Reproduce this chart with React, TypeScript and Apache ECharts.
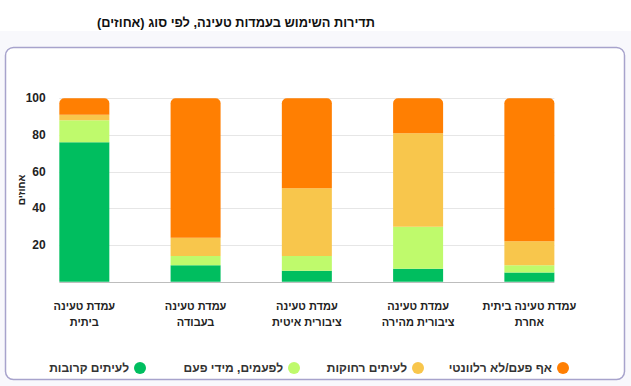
import React, { useEffect, useRef } from "react";
import * as echarts from "echarts";

const categories = [
  "עמדת טעינה\nביתית",
  "עמדת טעינה\nבעבודה",
  "עמדת טעינה\nציבורית איטית",
  "עמדת טעינה\nציבורית מהירה",
  "עמדת טעינה ביתית\nאחרת",
];
const seriesNames = ["לעיתים קרובות", "לפעמים, מידי פעם", "לעיתים רחוקות", "אף פעם/לא רלוונטי"];
const often = [76, 9, 6, 7, 5];
const sometimes = [12, 5, 8, 23, 4];
const rarely = [3, 10, 37, 51, 13];
const never = [9, 76, 49, 19, 78];
const gridValues = [0, 20, 40, 60, 80, 100];
const colors = ["#00be5f", "#bffa6c", "#f8c64c", "#ff7f02"];
const titleText = "תדירות השימוש בעמדות טעינה, לפי סוג (אחוזים)";
const yName = "אחוזים";

const FONT = "'Liberation Sans', Arial, 'DejaVu Sans', sans-serif";
const BAR_W = 50;

export default function App() {
  const ref = useRef<HTMLDivElement>(null);
  useEffect(() => {
    if (!ref.current) return;
    const chart = echarts.init(ref.current, undefined, { renderer: "svg" });
    const values = [often, sometimes, rarely, never];
    const legendRights = [480, 326, 202, 57];
    const option: any = {
      animation: false,
      title: {
        text: titleText + "\u200F",
        left: 231,
        top: 11,
        textAlign: "center",
        textStyle: { fontSize: 12.8, fontWeight: "bold", color: "#111", fontFamily: FONT },
      },
      graphic: [
        {
          type: "rect",
          z: -10,
          shape: { x: 0, y: 31, width: 631, height: 355 },
          style: { fill: "#f8f8fc" },
          silent: true,
        },
        {
          type: "rect",
          z: -9,
          shape: { x: 5.5, y: 47.5, width: 619, height: 332, r: 8 },
          style: { fill: "#ffffff", stroke: "#a7a3cc", lineWidth: 1.5 },
          silent: true,
        },
      ],
      legend: seriesNames.map((n, i) => ({
        data: [n],
        right: legendRights[i],
        top: 357,
        align: "right",
        icon: "path://M6,0A6,6 0 1,1 6,12A6,6 0 1,1 6,0Z",
        itemWidth: 12,
        itemHeight: 14,
        selectedMode: false,
        textStyle: { fontSize: 12, fontWeight: "bold", color: "#333", fontFamily: FONT },
      })),
      grid: { left: 28.7, right: 46, top: 98.3, bottom: 104.3, containLabel: false },
      xAxis: {
        type: "category",
        data: categories,
        axisLine: { show: false },
        axisTick: { show: false },
        axisLabel: {
          interval: 0,
          margin: 16,
          fontSize: 11,
          fontWeight: "bold",
          color: "#222",
          lineHeight: 16,
          fontFamily: FONT,
        },
      },
      yAxis: {
        type: "value",
        min: 0,
        max: 100,
        interval: 20,
        offset: -25,
        name: yName,
        nameLocation: "middle",
        nameRotate: 90,
        nameGap: 27,
        nameMoveOverlap: false,
        nameTextStyle: { fontSize: 10, fontWeight: "bold", color: "#222", fontFamily: FONT },
        axisLine: { show: false },
        axisTick: { show: false },
        splitLine: { show: false },
        axisLabel: {
          margin: 8,
          fontSize: 12,
          fontWeight: "bold",
          color: "#222",
          fontFamily: FONT,
          formatter: (v: number) => (v === 0 ? "" : String(v)),
        },
      },
      series: [
        {
          type: "custom",
          z: 1,
          silent: true,
          data: gridValues.map((v) => [0, v]),
          encode: { x: 0, y: 1 },
          renderItem: (params: any, api: any) => {
            const v = api.value(1);
            const p0 = api.coord([0, v]);
            const p1 = api.coord([categories.length - 1, v]);
            const y = Math.round(p0[1]) + 0.5;
            return {
              type: "line",
              shape: { x1: p0[0] - BAR_W / 2, y1: y, x2: p1[0] + BAR_W / 2, y2: y },
              style: { stroke: v === 0 ? "#bdbdbd" : "#e6e6e6", lineWidth: 1 },
            };
          },
        },
        ...seriesNames.map((n, i) => ({
          name: n,
          type: "bar",
          stack: "total",
          barWidth: BAR_W,
          z: 2,
          itemStyle: {
            color: colors[i],
            borderRadius: i === seriesNames.length - 1 ? [5, 5, 0, 0] : 0,
          },
          data: values[i],
        })),
      ],
    };
    chart.setOption(option);
    return () => chart.dispose();
  }, []);
  return (
    <div style={{ position: "fixed", left: 0, top: 0, width: 631, height: 386, background: "#fff" }}>
      <div ref={ref} style={{ width: 631, height: 386 }} />
    </div>
  );
}
